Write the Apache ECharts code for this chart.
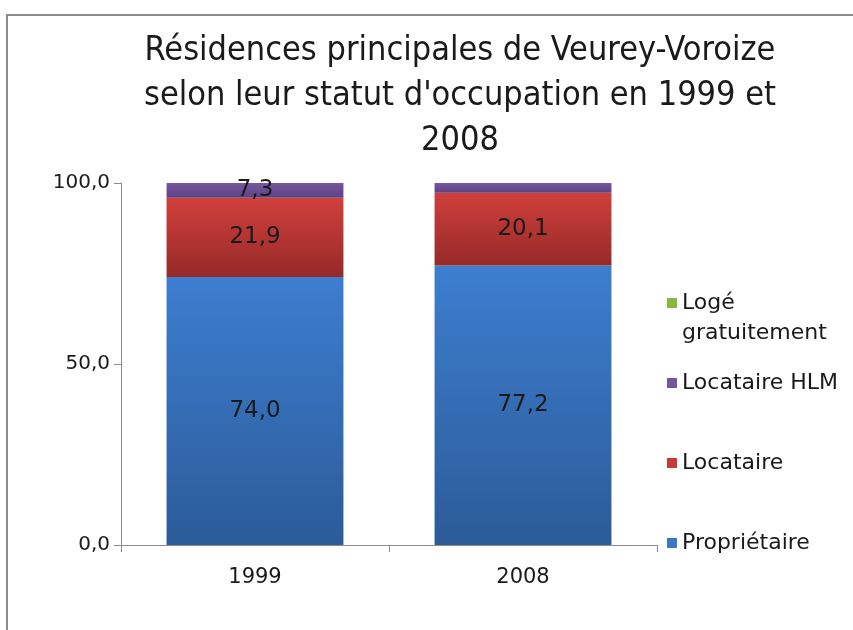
<!DOCTYPE html>
<html>
<head>
<meta charset="utf-8">
<script src="https://cdn.jsdelivr.net/npm/echarts@6/dist/echarts.min.js"></script>
<style>
html, body { margin: 0; padding: 0; background: #fff; }
#chart { width: 853px; height: 630px; }
</style>
</head>
<body>
<div id="chart"></div>
<script>
// données
var annees = ['1999', '2008'];
var proprietaire = [74.0, 77.2];
var locataire = [21.9, 20.1];
var locataireHLM = [7.3, 2.7];
var logeGratuit = [0, 0];
var yTicks = [0, 50, 100];

var policeTitre = '"DejaVu Sans Condensed", sans-serif';
var police = '"DejaVu Sans", sans-serif';

function virgule(v) {
    return v.toFixed(1).replace('.', ',');
}
function degrade(haut, bas) {
    return {
        type: 'linear', x: 0, y: 0, x2: 0, y2: 1,
        colorStops: [{ offset: 0, color: haut }, { offset: 1, color: bas }]
    };
}
function etiquette(show) {
    return {
        show: show,
        position: 'inside',
        color: '#1a1a1a',
        fontSize: 23,
        fontFamily: police,
        formatter: function (p) { return virgule(p.value); }
    };
}
function legende(nom, top, couleur) {
    return {
        orient: 'vertical',
        left: 662,
        top: top,
        itemWidth: 10,
        itemHeight: 10,
        itemGap: 0,
        icon: 'rect',
        data: [{ name: nom, itemStyle: { color: couleur } }],
        // ligne vide au-dessus pour centrer le carré sur « Logé »
        formatter: function (n) { return n === 'Logé gratuitement' ? ' \nLogé\ngratuitement' : n; },
        textStyle: { color: '#1a1a1a', fontSize: 22, fontFamily: police, lineHeight: 30 }
    };
}

var myChart = echarts.init(document.getElementById('chart'));
var option = {
    backgroundColor: '#fff',
    animation: false,
    title: {
        text: 'Résidences principales de Veurey-Voroize\nselon leur statut d\'occupation en 1999 et\n2008',
        left: 455,
        top: 24,
        textAlign: 'center',
        textStyle: { color: '#1a1a1a', fontSize: 34, fontWeight: 'normal', fontFamily: policeTitre, lineHeight: 45 }
    },
    graphic: [{
        type: 'polyline',
        shape: { points: [[7, 640], [7, 15], [860, 15]] },
        style: { stroke: '#8c8c8c', lineWidth: 2, fill: null },
        silent: true
    }],
    legend: [
        legende('Logé gratuitement', 253, '#8cb53f'),
        legende('Locataire HLM', 363, '#7457a0'),
        legende('Locataire', 443, '#c9393a'),
        legende('Propriétaire', 523, '#3a76c4')
    ],
    grid: { left: 121, right: 196, top: 183, bottom: 85 },
    xAxis: {
        type: 'category',
        data: annees,
        axisLine: { lineStyle: { color: '#8c8c8c', width: 1 } },
        axisTick: { show: true, length: 7, lineStyle: { color: '#8c8c8c' } },
        axisLabel: { color: '#1a1a1a', fontSize: 21, fontFamily: police, margin: 22 }
    },
    yAxis: {
        type: 'value',
        min: 0,
        max: 100,
        interval: 50,
        axisLine: { show: true, lineStyle: { color: '#8c8c8c', width: 1 } },
        axisTick: { show: true, length: 7, lineStyle: { color: '#8c8c8c' } },
        splitLine: { show: false },
        axisLabel: {
            color: '#1a1a1a', fontSize: 20, fontFamily: police, margin: 11,
            formatter: function (v) { return yTicks.indexOf(v) >= 0 ? virgule(v) : ''; }
        }
    },
    series: [
        {
            name: 'Propriétaire', type: 'bar', stack: 'total', barWidth: '66%',
            itemStyle: { color: degrade('#3d7ed0', '#2b5b98') },
            label: etiquette(true),
            data: proprietaire
        },
        {
            name: 'Locataire', type: 'bar', stack: 'total',
            itemStyle: { color: degrade('#d03f3c', '#962a28') },
            label: etiquette(true),
            data: locataire
        },
        {
            name: 'Locataire HLM', type: 'bar', stack: 'total',
            itemStyle: { color: degrade('#7657a0', '#5d4282') },
            label: etiquette(true),
            data: locataireHLM.map(function (v, i) {
                return i === 0 ? v : { value: v, label: { show: false } };
            })
        },
        {
            name: 'Logé gratuitement', type: 'bar', stack: 'total',
            itemStyle: { color: degrade('#9bc24a', '#76992f') },
            label: etiquette(false),
            data: logeGratuit
        }
    ]
};
myChart.setOption(option);
window.addEventListener('resize', function () {
    myChart.resize();
});
</script>
</body>
</html>
